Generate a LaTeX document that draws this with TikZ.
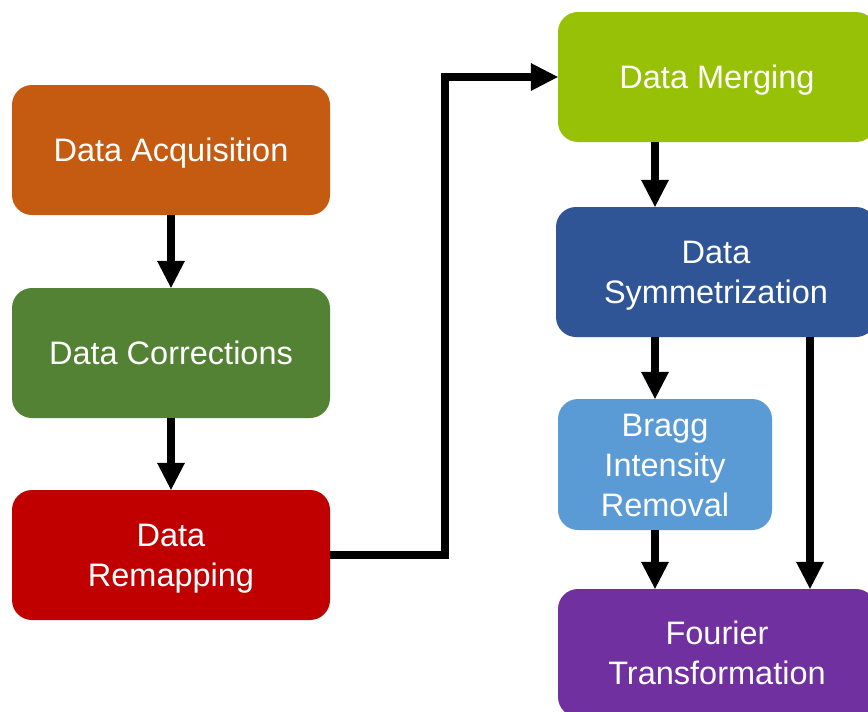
\documentclass[tikz,border=0pt]{standalone}
\usepackage{fontspec}
\setmainfont{Liberation Sans}
\usetikzlibrary{arrows.meta}
\definecolor{cacq}{HTML}{C55A11}
\definecolor{ccor}{HTML}{548235}
\definecolor{crem}{HTML}{C00000}
\definecolor{cmer}{HTML}{97C106}
\definecolor{csym}{HTML}{2F5597}
\definecolor{cbra}{HTML}{5B9BD5}
\definecolor{cfou}{HTML}{7030A0}
\newcommand{\stagetext}[1]{\raisebox{-3.5pt}[\height][\depth]{\begin{tabular}{@{}c@{}}#1\end{tabular}}}
\tikzset{
  stage/.style={rounded corners=20pt, inner sep=0pt, text=white,
    font=\fontsize{32.5}{40}\selectfont},
  flow/.style={line width=8pt, line join=miter,
    -{Triangle[width=28pt,length=27pt,line width=0pt]}}
}
\begin{document}
\begin{tikzpicture}[x=1pt,y=-1pt]
\clip (0,0) rectangle (868,712);
\fill[white] (0,0) rectangle (868,712);
\node[stage, fill=cacq, minimum width=318pt, minimum height=130pt] (A) at (171,150) {\stagetext{Data Acquisition}};
\node[stage, fill=ccor, minimum width=318pt, minimum height=130pt] (C) at (171,353) {\stagetext{Data Corrections}};
\node[stage, fill=crem, minimum width=318pt, minimum height=130pt] (R) at (171,555) {\stagetext{Data\\Remapping}};
\node[stage, fill=cmer, minimum width=318pt, minimum height=130pt] (M) at (717,77) {\stagetext{Data Merging}};
\node[stage, fill=csym, minimum width=320pt, minimum height=130pt] (S) at (716,272) {\stagetext{Data\\Symmetrization}};
\node[stage, fill=cbra, minimum width=214pt, minimum height=131pt] (B) at (665,464.5) {\stagetext{Bragg\\Intensity\\Removal}};
\node[stage, fill=cfou, minimum width=318pt, minimum height=128pt] (F) at (717,653) {\stagetext{Fourier\\Transformation}};
\coordinate (bend) at (445,0);
\coordinate (colL) at (655,0);
\coordinate (colR) at (810,0);
\draw[flow] (A.south) -- (C.north);
\draw[flow] (C.south) -- (R.north);
\draw[flow] (R.east) -- (R.east -| bend) -- (bend |- M.west) -- (M.west);
\draw[flow] (colL |- M.south) -- (colL |- S.north);
\draw[flow] (colL |- S.south) -- (colL |- B.north);
\draw[flow] (colL |- B.south) -- (colL |- F.north);
\draw[flow] (colR |- S.south) -- (colR |- F.north);
\end{tikzpicture}
\end{document}
